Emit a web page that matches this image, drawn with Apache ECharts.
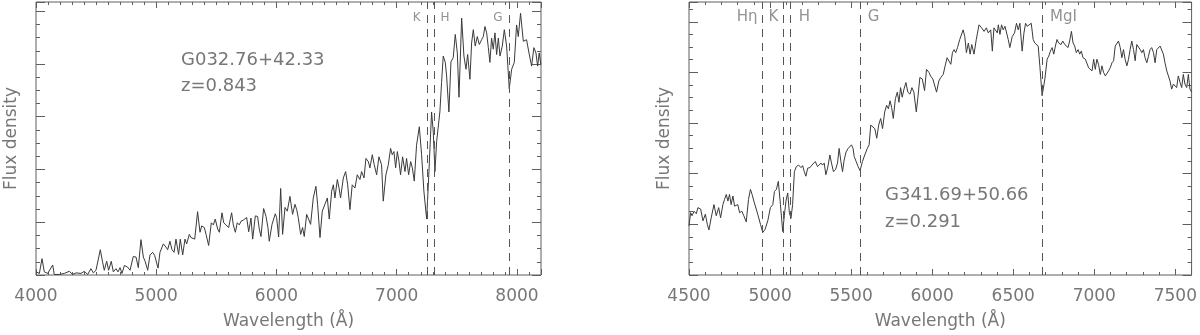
<!DOCTYPE html>
<html>
<head>
<meta charset="utf-8" />
<title>spectra</title>
<script src="https://cdn.jsdelivr.net/npm/echarts@6/dist/echarts.min.js"></script>
<style>body{margin:0;background:#fff;}</style>
</head>
<body>
<div id="main" style="width:1200px;height:335px;"></div>
<script>
// left spectrum  G032.76+42.33  (wavelength in A, flux in arbitrary units)
var leftWave = [4000,4028,4050,4069,4097,4139,4152,4194,4236,4277,4305,4333,4374,4402,4430,4457,4477,4499,4513,4535,
  4554,4568,4588,4604,4626,4643,4665,4682,4699,4715,4735,4762,4782,4809,4832,4851,4873,4893,4909,4929,
  4948,4970,4987,4998,5015,5031,5059,5081,5095,5114,5131,5148,5164,5186,5200,5220,5239,5253,5275,5289,
  5303,5320,5344,5364,5378,5400,5414,5436,5458,5475,5491,5511,5525,5547,5561,5580,5602,5627,5641,5658,
  5674,5691,5705,5724,5752,5769,5788,5802,5824,5843,5857,5871,5893,5913,5929,5940,5963,5990,6001,6018,
  6035,6051,6071,6090,6112,6134,6154,6168,6181,6201,6217,6231,6251,6267,6284,6306,6328,6342,6362,6381,
  6403,6423,6439,6459,6473,6486,6506,6520,6533,6556,6575,6592,6611,6630,6653,6672,6694,6708,6728,6744,
  6764,6777,6797,6813,6833,6852,6874,6888,6910,6930,6949,6963,6977,6991,7005,7019,7032,7049,7069,7082,
  7099,7116,7130,7146,7165,7188,7207,7226,7249,7268,7290,7304,7318,7332,7359,7373,7387,7404,7415,7434,
  7451,7470,7487,7504,7518,7540,7559,7576,7590,7609,7623,7637,7653,7670,7687,7706,7720,7734,7748,7762,
  7775,7789,7803,7817,7831,7845,7859,7878,7895,7914,7936,7956,7978,7997,8011,8030,8053,8066,8080,8100,
  8122,8141,8158,8172,8185,8199];
var leftFlux = [0.06,0.03,0.31,0.06,0.03,0.19,0.01,0.01,0.03,0.07,0.01,0.04,0.03,0.07,0.01,0.12,0.04,0.09,0.12,0.48,
  0.24,0.09,0.26,0.09,0.26,0.06,0.12,0.06,0.14,0.03,0.18,0.15,0.09,0.35,0.34,0.14,0.67,0.34,0.25,0.09,
  0.38,0.43,0.37,0.40,0.13,0.43,0.59,0.53,0.48,0.64,0.48,0.43,0.68,0.39,0.68,0.38,0.68,0.59,0.77,0.71,
  0.74,0.68,1.20,0.81,0.93,0.90,0.77,0.56,0.99,0.95,1.06,0.87,0.81,1.18,0.99,0.95,0.90,1.18,0.95,0.81,
  0.99,0.95,1.02,1.04,1.09,0.82,1.08,0.68,1.12,1.11,0.87,0.73,1.26,1.11,0.90,0.64,0.96,1.16,1.09,0.72,
  1.64,0.77,1.28,1.21,1.49,1.15,1.34,1.24,1.09,0.77,0.90,0.73,1.15,1.06,0.96,1.46,1.68,1.34,0.71,1.21,
  1.34,1.46,1.06,1.59,1.71,1.46,1.81,1.65,1.46,1.84,1.96,1.71,1.24,1.71,1.65,1.90,1.81,1.96,1.84,2.21,
  2.15,2.03,2.28,2.09,1.90,2.24,2.09,1.40,1.90,2.09,2.40,2.28,2.34,2.03,2.34,2.15,1.90,2.24,1.96,2.21,
  1.90,2.15,2.03,1.78,2.46,2.81,2.28,1.59,1.06,1.96,3.09,2.71,1.96,2.53,3.09,3.65,4.15,4.03,3.77,3.09,
  4.04,4.12,4.56,4.21,3.37,4.87,4.15,3.90,4.18,3.71,4.40,4.65,4.34,4.52,4.37,4.46,4.52,4.71,4.59,4.31,
  4.03,4.49,4.28,4.59,4.18,4.49,4.15,4.34,4.65,4.34,3.53,3.90,4.03,4.74,4.52,4.96,4.43,4.43,4.46,4.21,
  3.96,4.31,4.21,3.96,4.21,3.99];
var leftLineNames = ['K', 'H', 'G'];
var leftLineWave = [7252, 7310, 7935];

// right spectrum  G341.69+50.66
var rightWave = [4500,4510,4519,4531,4545,4555,4572,4586,4601,4613,4623,4637,4654,4668,4683,4695,4709,4719,4730,4740,
  4750,4760,4771,4781,4791,4801,4812,4826,4838,4853,4867,4879,4889,4900,4910,4924,4941,4955,4969,4986,
  5002,5017,5027,5039,5051,5064,5078,5088,5098,5109,5119,5129,5139,5150,5162,5176,5191,5201,5211,5221,
  5232,5246,5258,5268,5279,5293,5303,5314,5324,5334,5344,5355,5369,5379,5391,5404,5416,5426,5437,5447,
  5457,5469,5482,5494,5502,5512,5519,5531,5543,5555,5570,5584,5600,5611,5621,5631,5646,5658,5670,5682,
  5694,5707,5719,5730,5740,5750,5760,5773,5785,5795,5805,5815,5826,5838,5850,5863,5875,5887,5902,5912,
  5924,5939,5953,5965,5980,5990,6004,6014,6027,6041,6053,6068,6080,6092,6104,6115,6125,6135,6145,6156,
  6170,6180,6191,6201,6211,6223,6234,6244,6258,6272,6289,6305,6320,6334,6346,6361,6371,6381,6391,6402,
  6408,6418,6428,6438,6449,6459,6469,6479,6494,6508,6520,6531,6541,6555,6566,6576,6586,6596,6611,6623,
  6633,6643,6654,6664,6678,6695,6709,6719,6729,6740,6750,6760,6770,6780,6795,6805,6818,6828,6838,6848,
  6859,6869,6879,6889,6900,6910,6920,6930,6945,6955,6965,6975,6986,6996,7006,7016,7026,7037,7047,7057,
  7068,7078,7088,7098,7109,7119,7129,7139,7149,7160,7170,7180,7190,7201,7211,7221,7231,7242,7252,7262,
  7272,7283,7293,7303,7313,7324,7334,7344,7354,7365,7375,7385,7395,7406,7416,7426,7436,7447,7457,7467,
  7477,7488,7498,7508,7518,7529,7539,7549,7559,7570,7580,7590,7600];
var rightFlux = [0.97,1.23,1.17,1.26,1.21,1.33,1.30,1.07,1.20,1.00,0.89,1.13,1.39,1.17,1.33,1.13,1.39,1.49,1.59,1.46,
  1.59,1.39,1.56,1.36,1.33,1.39,1.23,1.26,1.17,1.05,1.49,1.69,1.59,1.46,1.49,1.20,1.00,0.84,0.90,1.07,
  1.33,1.39,1.65,1.69,1.85,1.39,0.86,1.17,1.46,1.62,1.23,1.12,1.39,2.04,2.14,2.17,2.12,2.16,2.04,1.95,
  2.11,2.12,2.17,2.14,2.24,2.14,2.11,2.21,2.17,2.21,1.98,2.11,2.37,2.21,2.04,2.08,2.21,2.50,2.24,2.04,
  2.27,2.43,2.50,2.53,2.57,2.50,2.34,2.24,2.14,2.06,2.24,2.37,2.50,2.57,2.96,2.99,2.89,2.70,2.96,3.09,
  2.89,3.22,3.35,3.28,3.44,3.31,3.09,3.48,3.61,3.41,3.70,3.51,3.67,3.80,3.61,3.57,3.70,3.61,3.22,3.51,
  3.90,3.87,3.64,4.06,4.00,3.93,3.87,3.90,3.61,3.83,3.90,3.96,4.13,4.29,4.26,4.16,4.39,4.45,4.39,4.49,
  4.65,4.68,4.84,4.71,4.39,4.58,4.36,4.55,4.36,4.65,4.94,4.88,4.81,4.88,4.78,4.84,4.42,4.88,4.91,4.78,
  4.94,4.75,4.94,4.84,4.91,4.94,4.65,4.49,4.71,4.78,4.97,4.84,4.97,4.42,4.78,4.97,4.91,4.94,4.97,4.65,
  4.58,4.58,4.52,4.13,3.54,3.87,4.26,4.32,4.42,4.49,4.36,4.52,4.65,4.58,4.55,4.62,4.55,4.58,4.49,4.62,
  4.81,4.58,4.52,4.39,4.45,4.36,4.42,4.29,4.26,4.29,4.09,4.06,4.03,4.26,4.06,4.26,4.16,3.96,4.13,4.00,
  3.93,3.90,4.03,4.09,4.19,4.23,4.52,4.52,4.62,4.49,4.29,4.45,4.26,4.13,4.26,4.45,4.62,4.45,4.23,4.55,
  4.52,4.45,4.39,4.45,4.29,4.19,4.32,4.45,4.49,4.39,4.19,4.45,4.45,4.52,4.52,4.36,4.19,4.03,4.03,3.83,
  3.67,3.77,3.74,3.70,3.93,3.80,3.70,3.96,3.77,3.70,3.96,3.67,3.61];
var rightLineNames = ['Hη', 'K', 'H', 'G', 'MgI'];
var rightLineWave = [4951, 5079, 5124, 5556, 6681];

var AX = '#5e5e5e';
var TXT = '#777';
var FONT = 'DejaVu Sans';

// two x axes (bottom labelled, top mirrored) and two y axes (left named, right mirrored) per panel
function makeAxes(gi, xr, yr) {
  var xs = [], ys = [];
  [['bottom', true], ['top', false]].forEach(function (a) {
    xs.push({
      type: 'value', gridIndex: gi, position: a[0], min: xr.min, max: xr.max, interval: xr.major,
      axisLine: {show: false, onZero: false}, splitLine: {show: false},
      axisTick: {show: true, inside: true, length: 6, lineStyle: {color: AX}},
      minorTick: {show: true, splitNumber: xr.split, length: 3, lineStyle: {color: AX}},
      minorSplitLine: {show: false},
      axisLabel: {show: a[1], showMaxLabel: false, margin: 13, color: TXT, fontSize: 17, fontFamily: FONT,
        formatter: function (v) { return String(v); }},
      name: a[1] ? 'Wavelength (Å)' : '', nameLocation: 'middle', nameGap: 38,
      nameTextStyle: {color: TXT, fontSize: 17, fontFamily: FONT}
    });
  });
  [['left', true], ['right', false]].forEach(function (a) {
    ys.push({
      type: 'value', gridIndex: gi, position: a[0], min: yr.min, max: yr.max, interval: yr.major,
      axisLine: {show: false, onZero: false}, splitLine: {show: false},
      axisTick: {show: true, inside: true, length: 9, lineStyle: {color: AX}},
      minorTick: {show: true, splitNumber: yr.split, length: 4, lineStyle: {color: AX}},
      minorSplitLine: {show: false},
      axisLabel: {show: false},
      name: a[1] ? 'Flux density' : '', nameLocation: 'middle', nameGap: 16,
      nameTextStyle: {color: TXT, fontSize: 17, fontFamily: FONT}
    });
  });
  return {x: xs, y: ys};
}

var axL = makeAxes(0, {min: 4000, max: 8200, major: 1000, split: 10}, {min: 0, max: 5.175, major: 1, split: 4});
var axR = makeAxes(1, {min: 4500, max: 7600, major: 500, split: 5}, {min: 0, max: 5.39, major: 1, split: 4});

function pairs(w, f) { return w.map(function (v, i) { return [v, f[i]]; }); }

function specSeries(axIdx, w, f, lines) {
  return {
    type: 'line', xAxisIndex: axIdx, yAxisIndex: axIdx, data: pairs(w, f),
    showSymbol: false, silent: true,
    lineStyle: {color: '#3a3a3a', width: 1},
    markLine: {
      silent: true, symbol: ['none', 'none'], label: {show: false},
      lineStyle: {color: '#555', width: 1, type: [8, 6]},
      data: lines.map(function (v) { return {xAxis: v}; })
    }
  };
}

function lineLabels(axIdx, names, waves, yv, sides, dists, size) {
  return {
    type: 'scatter', xAxisIndex: axIdx, yAxisIndex: axIdx, silent: true, symbolSize: 1,
    itemStyle: {color: 'rgba(0,0,0,0)'},
    label: {show: true, formatter: '{b}', color: TXT, fontSize: size, fontFamily: FONT},
    data: names.map(function (n, i) {
      return {name: n, value: [waves[i], yv], label: {position: sides[i], distance: dists[i]}};
    })
  };
}

var chart = echarts.init(document.getElementById('main'));
chart.setOption({
  animation: false,
  grid: [
    {left: 36, top: 2, width: 505, height: 276, show: true, borderColor: AX, borderWidth: 1},
    {left: 689, top: 2, width: 505, height: 276, show: true, borderColor: AX, borderWidth: 1}
  ],
  xAxis: axL.x.concat(axR.x),
  yAxis: axL.y.concat(axR.y),
  series: [
    specSeries(0, leftWave, leftFlux, leftLineWave),
    lineLabels(0, leftLineNames, leftLineWave, 4.88, ['left', 'right', 'left'], [6, 6, 6], 12),
    specSeries(2, rightWave, rightFlux, rightLineWave),
    lineLabels(2, rightLineNames, rightLineWave, 5.1, ['left', 'left', 'right', 'right', 'right'], [4, 4, 8, 7, 7], 15)
  ],
  graphic: [
    {type: 'text', x: 181, y: 60, style: {text: 'G032.76+42.33', font: '18px "DejaVu Sans"', fill: TXT, verticalAlign: 'middle'}},
    {type: 'text', x: 181, y: 86, style: {text: 'z=0.843', font: '18px "DejaVu Sans"', fill: TXT, verticalAlign: 'middle'}},
    {type: 'text', x: 885, y: 195, style: {text: 'G341.69+50.66', font: '18px "DejaVu Sans"', fill: TXT, verticalAlign: 'middle'}},
    {type: 'text', x: 885, y: 222, style: {text: 'z=0.291', font: '18px "DejaVu Sans"', fill: TXT, verticalAlign: 'middle'}}
  ]
});
</script>
</body>
</html>
